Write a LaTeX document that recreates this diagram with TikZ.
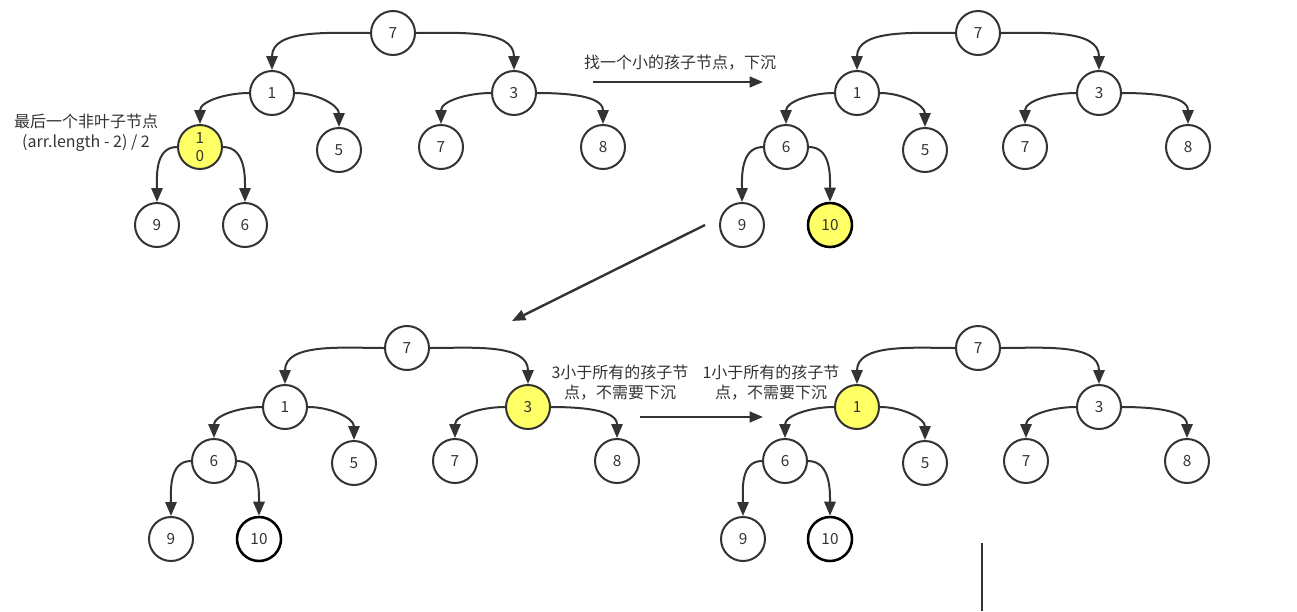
\documentclass[tikz,border=0pt]{standalone}
\usepackage{fontspec}
\setmainfont{Noto Sans CJK SC}
\usepackage{tikz}
\usetikzlibrary{arrows.meta}
\definecolor{ink}{HTML}{333333}
\definecolor{mark}{HTML}{FFFF66}

\begin{document}
\begin{tikzpicture}
        [
        x=0.75pt, y=-0.75pt,
        align=center,
        font=\fontsize{11.5pt}{14pt}\selectfont,
        text=ink,
        heap/.style={circle, fill=white, draw=ink, line width=1.5pt, minimum size=33pt, inner sep=0pt},
        hot/.style={heap, fill=mark},
        sunk/.style={heap, draw=black, line width=1.9pt},
        edge/.style={draw=ink, line width=1.5pt, -{Triangle[length=10.5pt,width=8.5pt]}},
        step arrow/.style={draw=ink, line width=1.8pt, -{Triangle[length=10pt,width=8pt]}},
        note/.style={font=\fontsize{12pt}{15pt}\selectfont},
        ]
                \useasboundingbox (0,0) rectangle (1297,611);

                % tree a: start
                \node[heap] (a0) at ( 393,  33) {7};
                \node[heap] (a1) at ( 272,  93) {1};
                \node[heap] (a2) at ( 514,  93) {3};
                \node[hot, font=\fontsize{11.5pt}{14pt}\selectfont] (a3) at ( 200, 147) {1\\0};
                \node[heap] (a4) at ( 339, 150) {5};
                \node[heap] (a5) at ( 441, 147) {7};
                \node[heap] (a6) at ( 603, 147) {8};
                \node[heap] (a7) at ( 157, 225) {9};
                \node[heap] (a8) at ( 245, 225) {6};

                % tree b: after sinking
                \node[heap] (b0) at ( 978,  33) {7};
                \node[heap] (b1) at ( 857,  93) {1};
                \node[heap] (b2) at (1099,  93) {3};
                \node[heap] (b3) at ( 786, 147) {6};
                \node[heap] (b4) at ( 925, 150) {5};
                \node[heap] (b5) at (1025, 147) {7};
                \node[heap] (b6) at (1188, 147) {8};
                \node[heap] (b7) at ( 742, 225) {9};
                \node[hot, draw=black, line width=1.9pt] (b8) at ( 830, 225) {10};

                % tree c
                \node[heap] (c0) at ( 407, 348) {7};
                \node[heap] (c1) at ( 285, 407) {1};
                \node[hot]  (c2) at ( 528, 407) {3};
                \node[heap] (c3) at ( 214, 461) {6};
                \node[heap] (c4) at ( 354, 463) {5};
                \node[heap] (c5) at ( 455, 461) {7};
                \node[heap] (c6) at ( 617, 461) {8};
                \node[heap] (c7) at ( 171, 539) {9};
                \node[sunk] (c8) at ( 259, 539) {10};

                % tree d
                \node[heap] (d0) at ( 978, 348) {7};
                \node[hot]  (d1) at ( 857, 407) {1};
                \node[heap] (d2) at (1099, 407) {3};
                \node[heap] (d3) at ( 785, 461) {6};
                \node[heap] (d4) at ( 925, 463) {5};
                \node[heap] (d5) at (1026, 461) {7};
                \node[heap] (d6) at (1187, 461) {8};
                \node[heap] (d7) at ( 743, 539) {9};
                \node[sunk] (d8) at ( 830, 539) {10};

                % notes
                \node[note] (last) at (86, 133) {最后一个非叶子节点\\(arr.length - 2) / 2};
                \node[note] (find) at (680, 63) {找一个小的孩子节点，下沉};
                \node[note] (skip3) at (620, 383) {3小于所有的孩子节\\点，不需要下沉};
                \node[note] (skip1) at (771, 383) {1小于所有的孩子节\\点，不需要下沉};

                % step arrows
                \coordinate (s1) at (593,  82);
                \coordinate (e1) at (763,  82);
                \coordinate (s2) at (705, 225);
                \coordinate (e2) at (512, 321);
                \coordinate (s3) at (640, 417);
                \coordinate (e3) at (763, 417);
                \coordinate (s4) at (982, 543);
                \coordinate (e4) at (982, 611);

                % drawing code
                \foreach \t in {a,b,c,d}
                {
                        \foreach \from/\to in {0/1,1/3,2/5,3/7} \draw[edge] (\t\from.west) to[out=180, in=90] (\t\to.north);
                        \foreach \from/\to in {0/2,1/4,2/6,3/8} \draw[edge] (\t\from.east) to[out=0, in=90] (\t\to.north);
                }
                \foreach \from/\to in {s1/e1,s2/e2,s3/e3} \draw[step arrow] (\from) -- (\to);
                \draw[draw=ink, line width=1.8pt] (s4) -- (e4);
        \end{tikzpicture}
\end{document}
